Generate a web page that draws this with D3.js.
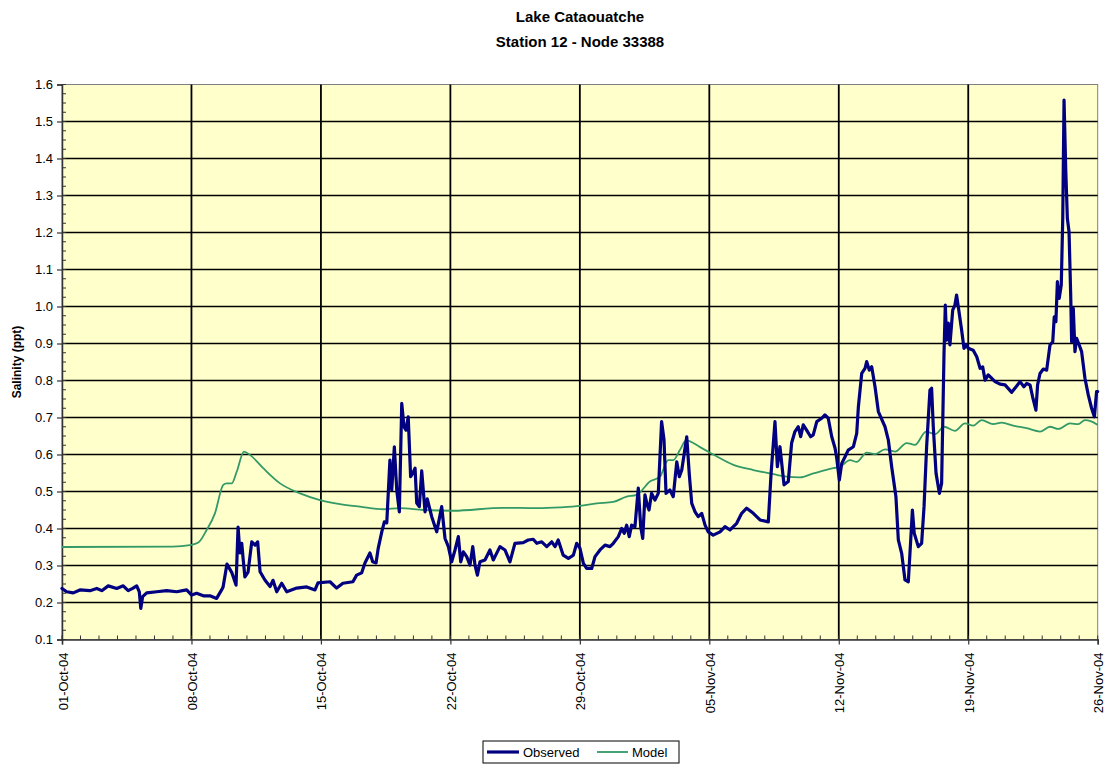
<!DOCTYPE html>
<html>
<head>
<meta charset="utf-8">
<script src="https://cdn.jsdelivr.net/npm/d3@7"></script>
<style>
  html, body { margin: 0; padding: 0; background: #ffffff; }
  svg { display: block; font-family: "Liberation Sans", Arial, sans-serif; }
</style>
</head>
<body>
<svg id="chart" width="1107" height="764"></svg>
<script>
// Salinity time series, Lake Cataouatche, Station 12 / Node 33388.
// Time is given in days after 01-Oct-2004 00:00.

const tickDays = [0, 7, 14, 21, 28, 35, 42, 49, 56];
const tickLabels = ["01-Oct-04", "08-Oct-04", "15-Oct-04", "22-Oct-04", "29-Oct-04",
                    "05-Nov-04", "12-Nov-04", "19-Nov-04", "26-Nov-04"];
const yTicks = [0.1, 0.2, 0.3, 0.4, 0.5, 0.6, 0.7, 0.8, 0.9, 1.0, 1.1, 1.2, 1.3, 1.4, 1.5, 1.6];

const observedDays = [
  0, 0.25, 0.61, 0.97, 1.51, 1.88, 2.15, 2.50, 2.96, 3.31, 3.58, 3.82, 4.04, 4.18, 4.26, 4.36,
  4.58, 5.12, 5.66, 6.20, 6.74, 7.01, 7.28, 7.64, 8.00, 8.36, 8.63, 8.71, 8.92, 9.19, 9.41,
  9.52, 9.62, 9.72, 9.79, 9.89, 10.06, 10.26, 10.44, 10.58, 10.71, 10.98, 11.25, 11.41, 11.61,
  11.88, 12.15, 12.69, 13.23, 13.68, 13.84, 14.49, 14.85, 15.19, 15.73, 15.93, 16.20, 16.38,
  16.65, 16.80, 16.98, 17.10, 17.29, 17.43, 17.56, 17.73, 17.83, 17.97, 18.10, 18.24, 18.37,
  18.49, 18.60, 18.72, 18.85, 18.96, 19.09, 19.18, 19.32, 19.45, 19.63, 19.75, 19.99, 20.26,
  20.53, 20.71, 20.89, 21.07, 21.25, 21.43, 21.56, 21.70, 21.88, 22.06, 22.21, 22.33, 22.46,
  22.60, 22.87, 23.14, 23.32, 23.68, 23.95, 24.22, 24.49, 24.94, 25.21, 25.48, 25.67, 25.94,
  26.21, 26.48, 26.66, 26.83, 27.10, 27.38, 27.65, 27.83, 28.01, 28.19, 28.37, 28.64, 28.82,
  29.09, 29.36, 29.63, 29.81, 30.08, 30.26, 30.40, 30.53, 30.67, 30.80, 30.98, 31.16, 31.29,
  31.40, 31.52, 31.65, 31.74, 31.88, 32.06, 32.24, 32.42, 32.55, 32.66, 32.87, 33.05, 33.24,
  33.38, 33.51, 33.78, 33.92, 34.05, 34.23, 34.40, 34.59, 34.77, 34.94, 35.21, 35.58, 35.85,
  36.12, 36.48, 36.75, 37.02, 37.38, 37.74, 38.19, 38.34, 38.55, 38.68, 38.82, 39.04, 39.27,
  39.45, 39.63, 39.81, 39.94, 40.08, 40.26, 40.48, 40.62, 40.81, 41.08, 41.25, 41.43, 41.62,
  41.80, 41.89, 42.03, 42.16, 42.34, 42.51, 42.79, 42.97, 43.06, 43.24, 43.42, 43.51, 43.65,
  43.78, 43.96, 44.14, 44.50, 44.68, 44.86, 45.09, 45.22, 45.40, 45.58, 45.76, 45.89, 45.98,
  46.08, 46.30, 46.48, 46.61, 46.75, 46.93, 47.02, 47.11, 47.26, 47.44, 47.56, 47.69, 47.76,
  47.83, 47.92, 48.01, 48.16, 48.28, 48.37, 48.46, 48.64, 48.77, 48.92, 49.00, 49.27, 49.46,
  49.64, 49.78, 49.91, 50.08, 50.27, 50.45, 50.72, 50.99, 51.35, 51.62, 51.80, 52.01, 52.16,
  52.34, 52.48, 52.66, 52.75, 52.88, 53.06, 53.24, 53.42, 53.57, 53.65, 53.74, 53.82, 53.92,
  54.03, 54.11, 54.18, 54.27, 54.36, 54.45, 54.54, 54.59, 54.68, 54.77, 54.86, 55.00, 55.13,
  55.31, 55.49, 55.67, 55.82, 55.94, 56.0
];
const observedValues = [
  0.238, 0.229, 0.226, 0.234, 0.232, 0.238, 0.232, 0.245, 0.238, 0.245, 0.232, 0.238, 0.245, 0.229, 0.184, 0.216,
  0.226, 0.229, 0.232, 0.229, 0.234, 0.220, 0.225, 0.218, 0.218, 0.211, 0.234, 0.242, 0.304, 0.280, 0.247,
  0.404, 0.334, 0.360, 0.320, 0.269, 0.282, 0.364, 0.355, 0.364, 0.283, 0.260, 0.243, 0.260, 0.229,
  0.252, 0.229, 0.239, 0.242, 0.234, 0.253, 0.256, 0.239, 0.252, 0.256, 0.274, 0.280, 0.307,
  0.334, 0.310, 0.307, 0.347, 0.391, 0.418, 0.415, 0.585, 0.504, 0.621, 0.504, 0.445, 0.738,
  0.675, 0.666, 0.702, 0.540, 0.549, 0.563, 0.469, 0.459, 0.556, 0.445, 0.480, 0.432, 0.391,
  0.459, 0.373, 0.351, 0.310, 0.342, 0.378, 0.310, 0.337, 0.324, 0.301, 0.351, 0.301, 0.274,
  0.310, 0.315, 0.342, 0.315, 0.351, 0.342, 0.310, 0.360, 0.362, 0.369, 0.371, 0.360, 0.364,
  0.351, 0.364, 0.351, 0.369, 0.328, 0.319, 0.328, 0.360, 0.346, 0.306, 0.292, 0.292, 0.324,
  0.342, 0.355, 0.351, 0.360, 0.378, 0.400, 0.387, 0.409, 0.378, 0.409, 0.405, 0.509, 0.405,
  0.373, 0.491, 0.462, 0.450, 0.495, 0.477, 0.495, 0.689, 0.640, 0.495, 0.504, 0.486, 0.580,
  0.540, 0.558, 0.648, 0.545, 0.468, 0.445, 0.432, 0.441, 0.409, 0.391, 0.382, 0.391, 0.405,
  0.396, 0.414, 0.441, 0.455, 0.441, 0.423, 0.418, 0.549, 0.689, 0.567, 0.621, 0.518, 0.527,
  0.631, 0.662, 0.675, 0.648, 0.680, 0.666, 0.648, 0.653, 0.689, 0.698, 0.707, 0.698, 0.648,
  0.617, 0.590, 0.531, 0.576, 0.594, 0.612, 0.621, 0.657, 0.729, 0.819, 0.833, 0.851, 0.828,
  0.837, 0.783, 0.716, 0.675, 0.639, 0.567, 0.486, 0.369, 0.333, 0.261, 0.256, 0.369, 0.450,
  0.387, 0.351, 0.360, 0.459, 0.621, 0.774, 0.779, 0.675, 0.549, 0.495, 0.522, 0.873, 1.004,
  0.909, 0.955, 0.896, 0.990, 1.004, 1.031, 1.000, 0.937, 0.887, 0.896, 0.887, 0.882, 0.864,
  0.833, 0.837, 0.801, 0.815, 0.806, 0.797, 0.790, 0.788, 0.768, 0.785, 0.797, 0.783, 0.792,
  0.788, 0.756, 0.720, 0.788, 0.819, 0.831, 0.828, 0.896, 0.905, 0.972, 0.959, 1.067, 1.022,
  1.058, 1.238, 1.558, 1.373, 1.238, 1.202, 1.031, 0.905, 0.995, 0.878, 0.914, 0.896, 0.878,
  0.806, 0.761, 0.725, 0.702, 0.770, 0.770
];

const modelDays = [
  0, 6.0, 6.92, 7.37, 7.82, 8.27, 8.72, 8.91, 9.18, 9.45, 9.84, 10.16, 10.88, 11.79, 12.87,
  13.95, 15.03, 16.11, 17.37, 18.27, 19.54, 21.16, 23.86, 25.67, 26.93, 28.01, 28.91, 29.81,
  30.53, 31.07, 31.79, 32.33, 32.78, 33.05, 33.41, 33.74, 34.50, 35.21, 36.30, 37.38, 38.46,
  39.18, 39.90, 40.62, 41.08, 41.70, 42.07, 42.61, 42.97, 43.51, 43.96, 44.50, 45.04, 45.67,
  46.12, 46.72, 47.21, 47.69, 48.28, 48.82, 49.27, 49.72, 50.35, 50.81, 51.43, 52.16, 52.88,
  53.42, 53.87, 54.50, 54.95, 55.31, 55.94, 56.0
];
const modelValues = [
  0.350, 0.351, 0.355, 0.362, 0.396, 0.441, 0.518, 0.522, 0.522, 0.554, 0.608, 0.599, 0.563,
  0.522, 0.495, 0.477, 0.466, 0.459, 0.452, 0.455, 0.450, 0.448, 0.456, 0.455, 0.457, 0.461,
  0.468, 0.472, 0.486, 0.491, 0.527, 0.540, 0.585, 0.585, 0.612, 0.638, 0.620, 0.600, 0.572,
  0.558, 0.547, 0.540, 0.538, 0.549, 0.555, 0.563, 0.567, 0.585, 0.580, 0.605, 0.601, 0.614,
  0.608, 0.631, 0.626, 0.662, 0.655, 0.675, 0.664, 0.684, 0.678, 0.693, 0.682, 0.686, 0.678,
  0.671, 0.662, 0.675, 0.669, 0.684, 0.682, 0.693, 0.682, 0.680
];

const seriesNames = ["Observed", "Model"];
const seriesColors = ["#000080", "#339966"];

// ---- layout ----
const svg = d3.select("#chart");
const plot = { left: 62, right: 1097.7, top: 84.5, bottom: 639.5 };

const x = d3.scaleLinear().domain([0, 56]).range([plot.left, plot.right]);
const y = d3.scaleLinear().domain([0.1, 1.6]).range([plot.bottom, plot.top]);

// plot background
svg.append("rect")
  .attr("x", plot.left).attr("y", plot.top)
  .attr("width", plot.right - plot.left).attr("height", plot.bottom - plot.top)
  .attr("fill", "#FFFFCC")
  .attr("stroke", "#808080").attr("stroke-width", 1);

// gridlines
svg.append("g").selectAll("line").data(yTicks.slice(1, -1)).join("line")
  .attr("x1", plot.left).attr("x2", plot.right)
  .attr("y1", d => y(d)).attr("y2", d => y(d))
  .attr("stroke", "#000").attr("stroke-width", 1.6);

svg.append("g").selectAll("line").data(tickDays.slice(1, -1)).join("line")
  .attr("x1", d => x(d)).attr("x2", d => x(d))
  .attr("y1", plot.top).attr("y2", plot.bottom)
  .attr("stroke", "#000").attr("stroke-width", 1.8);

// minor ticks (inside the plot)
const minorX = d3.range(0, 57, 1);
svg.append("g").selectAll("line").data(minorX).join("line")
  .attr("x1", d => x(d)).attr("x2", d => x(d))
  .attr("y1", plot.bottom).attr("y2", plot.bottom - 4)
  .attr("stroke", "#333").attr("stroke-width", 1);

const minorY = d3.range(0, 61).map(i => 0.1 + i * 0.025);
svg.append("g").selectAll("line").data(minorY).join("line")
  .attr("x1", plot.left).attr("x2", plot.left + 4)
  .attr("y1", d => y(d)).attr("y2", d => y(d))
  .attr("stroke", "#333").attr("stroke-width", 1);

// axes
const yAxis = d3.axisLeft(y).tickValues(yTicks).tickFormat(d3.format(".1f")).tickSize(5).tickPadding(4);
const gy = svg.append("g").attr("transform", `translate(${plot.left},0)`).call(yAxis);
gy.select(".domain").attr("stroke", "#333").attr("stroke-width", 1.5);
gy.selectAll(".tick line").attr("stroke", "#333").attr("stroke-width", 1.2);
gy.selectAll(".tick text").attr("font-size", 13).attr("fill", "#000")
  .attr("font-family", "'Liberation Sans', Arial, sans-serif");

const xAxis = d3.axisBottom(x).tickValues(tickDays).tickFormat((d, i) => tickLabels[i]).tickSize(5);
const gx = svg.append("g").attr("transform", `translate(0,${plot.bottom})`).call(xAxis);
gx.select(".domain").attr("stroke", "#333").attr("stroke-width", 1.5);
gx.selectAll(".tick line").attr("stroke", "#333").attr("stroke-width", 1.2);
gx.selectAll(".tick text")
  .attr("font-size", 13).attr("fill", "#000")
  .attr("font-family", "'Liberation Sans', Arial, sans-serif")
  .attr("text-anchor", "end")
  .attr("dy", null)
  .attr("y", 0)
  .attr("transform", "translate(5,13) rotate(-90)");

// series lines
const observedLine = d3.line().x(d => x(d[0])).y(d => y(d[1]));
const modelLine = d3.line().x(d => x(d[0])).y(d => y(d[1])).curve(d3.curveMonotoneX);
const modelData = d3.zip(modelDays, modelValues);
const observedData = d3.zip(observedDays, observedValues);

svg.append("path").datum(modelData)
  .attr("d", modelLine).attr("fill", "none")
  .attr("stroke", seriesColors[1]).attr("stroke-width", 1.8)
  .attr("stroke-linejoin", "round");

svg.append("path").datum(observedData)
  .attr("d", observedLine).attr("fill", "none")
  .attr("stroke", seriesColors[0]).attr("stroke-width", 3.2)
  .attr("stroke-linejoin", "round").attr("stroke-linecap", "round");

// titles
svg.append("text").attr("x", 580).attr("y", 22).attr("text-anchor", "middle")
  .attr("font-size", 15).attr("font-weight", "bold").text("Lake Cataouatche");
svg.append("text").attr("x", 580).attr("y", 47).attr("text-anchor", "middle")
  .attr("font-size", 15).attr("font-weight", "bold").text("Station 12 - Node 33388");

svg.append("text")
  .attr("transform", `translate(21,${(plot.top + plot.bottom) / 2}) rotate(-90)`)
  .attr("text-anchor", "middle")
  .attr("font-size", 12).attr("font-weight", "bold").text("Salinity (ppt)");

// legend
const legend = svg.append("g");
legend.append("rect").attr("x", 483).attr("y", 741).attr("width", 196).attr("height", 22)
  .attr("fill", "#fff").attr("stroke", "#000").attr("stroke-width", 1);
const legendItems = [
  { name: seriesNames[0], color: seriesColors[0], width: 3.2, x0: 487, x1: 519, tx: 523 },
  { name: seriesNames[1], color: seriesColors[1], width: 1.8, x0: 597, x1: 628, tx: 632 }
];
legendItems.forEach(it => {
  legend.append("line").attr("x1", it.x0).attr("x2", it.x1).attr("y1", 752).attr("y2", 752)
    .attr("stroke", it.color).attr("stroke-width", it.width);
  legend.append("text").attr("x", it.tx).attr("y", 757).attr("font-size", 13)
    .attr("fill", "#000").text(it.name);
});
</script>
</body>
</html>
